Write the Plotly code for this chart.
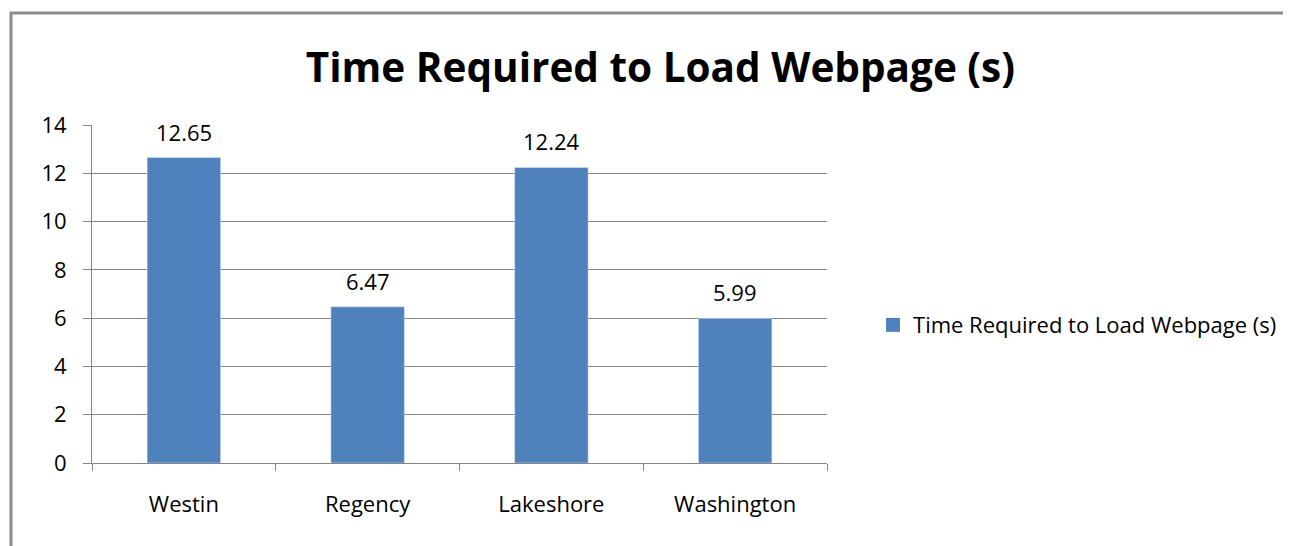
import plotly.graph_objects as go

# chart data
hotels = ['Westin', 'Regency', 'Lakeshore', 'Washington']
load_times = [12.65, 6.47, 12.24, 5.99]
y_ticks = [0, 2, 4, 6, 8, 10, 12, 14]
series_name = 'Time Required to Load Webpage (s)'

font_name = 'Open Sans'
bar_color = '#4F81BD'

fig = go.Figure()
fig.add_trace(go.Bar(x=hotels, y=load_times, name=series_name,
                     marker_color=bar_color, showlegend=False))
# legend entry with a square marker like the original
fig.add_trace(go.Scatter(x=[None], y=[None], mode='markers', name=series_name,
                         marker=dict(symbol='square', size=14, color=bar_color)))

# value labels above the bars
for h, v in zip(hotels, load_times):
    fig.add_annotation(x=h, y=v, text=f'{v:.2f}', showarrow=False,
                       yanchor='bottom', yshift=9,
                       font=dict(family=font_name, size=22, color='black'))

# outer chart border
fig.add_shape(type='rect', xref='paper', yref='paper',
              x0=-0.1102, x1=1.65, y0=-0.3, y1=1.3314,
              line=dict(color='#8c8c8c', width=3), layer='below')

fig.update_layout(
    width=1291, height=546,
    margin=dict(l=84, r=472, t=117, b=91),
    paper_bgcolor='white', plot_bgcolor='white',
    bargap=0.6,
    title=dict(text='<b>Time Required to Load Webpage (s)</b>', x=0.5053, xanchor='center',
               y=0.89, yanchor='middle',
               font=dict(family=font_name, size=40.5, color='black')),
    font=dict(family=font_name, size=22, color='black'),
    legend=dict(x=1.0626, xanchor='left', y=0.408, yanchor='middle',
                font=dict(family=font_name, size=22, color='black')),
    xaxis=dict(showline=True, linecolor='#868686', linewidth=1,
               ticks='outside', tickson='boundaries', ticklen=7, tickcolor='#868686',
               ticklabelstandoff=22, showgrid=False,
               tickfont=dict(family=font_name, size=22, color='black')),
    yaxis=dict(range=[0, 14], tickvals=y_ticks, showline=True, linecolor='#868686',
               linewidth=1, ticks='outside', ticklen=8, tickcolor='#868686',
               showgrid=True, gridcolor='#868686', gridwidth=1, zeroline=False,
               ticklabelstandoff=12,
               tickfont=dict(family=font_name, size=22, color='black')),
)

fig.write_html("out.html")
